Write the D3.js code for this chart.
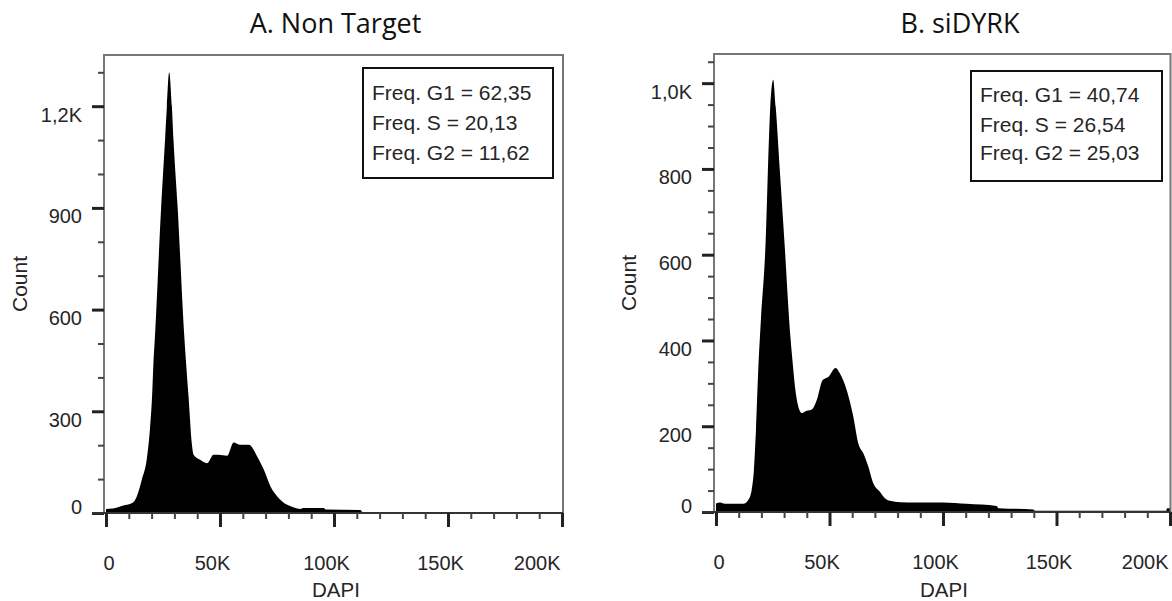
<!DOCTYPE html>
<html>
<head>
<meta charset="utf-8">
<script src="https://cdn.jsdelivr.net/npm/d3@7"></script>
<style>
  body { margin: 0; background: #fff; }
  svg { display: block; }
</style>
</head>
<body>
<svg id="chart" width="1172" height="601"></svg>
<script>
// ---- Data: DAPI cell-cycle histograms (DAPI in thousands, cell counts) ----
const dapiA  = [0, 3.0, 7.6, 11.0, 12.0, 13.5, 15.7, 17.9, 19.3, 20.2, 20.8, 21.5, 24.2, 25.9, 26.7, 27.7, 28.9, 29.6, 31.4, 34.3, 36.2, 37.7, 38.4, 41.3, 44.3, 47.2, 49.4, 53.1, 56.0, 58.9, 62.6, 66.3, 69.2, 72.1, 75.1, 79.5, 82.4, 85.3, 86.5, 95.4, 96.5, 111.7, 112.5, 200];
const countA = [12, 13, 22, 28, 32, 49, 98, 160, 250, 344, 442, 525, 904, 1101, 1199, 1300, 1199, 1101, 904, 525, 344, 201, 172, 157, 147, 172, 172, 169, 208, 201, 201, 167, 128, 79, 49, 24, 16, 12, 15, 15, 10, 9, 2, 2];

const dapiB  = [0, 1.8, 4.0, 12.0, 14.2, 15.7, 16.7, 17.6, 18.6, 19.8, 21.9, 23.3, 23.9, 25.2, 26.3, 28.2, 30.1, 32.9, 33.8, 34.8, 36.3, 37.8, 40.0, 42.2, 44.4, 47.0, 49.5, 52.7, 54.6, 57.6, 60.5, 62.7, 64.9, 67.1, 69.3, 72.2, 74.4, 76.6, 81.1, 88.4, 100.1, 110.4, 123.6, 124.4, 139.8, 140.5, 198.3, 198.7, 200];
const countB = [20, 22, 19, 19, 28, 51, 98, 191, 330, 450, 634, 867, 945, 1008, 945, 790, 634, 401, 347, 292, 245, 231, 236, 239, 261, 308, 315, 336, 323, 284, 222, 160, 137, 106, 67, 47, 32, 26, 23, 22, 22, 19, 14, 9, 6, 3, 3, 9, 9];

const freqA = ["Freq. G1 = 62,35", "Freq. S = 20,13", "Freq. G2 = 11,62"];
const freqB = ["Freq. G1 = 40,74", "Freq. S = 26,54", "Freq. G2 = 25,03"];

const xTicks      = [0, 50, 100, 150, 200];
const xTickLabels = ["0", "50K", "100K", "150K", "200K"];
const yTicksA      = [0, 300, 600, 900, 1200];
const yTickLabelsA = ["0", "300", "600", "900", "1,2K"];
const yTicksB      = [0, 200, 400, 600, 800, 1000];
const yTickLabelsB = ["0", "200", "400", "600", "800", "1,0K"];

// ---- Panel layout ----
const panels = [
  {
    id: "A", title: "A. Non Target", titleX: 335.5,
    dapi: dapiA, count: countA, freq: freqA,
    yTicks: yTicksA, yLabels: yTickLabelsA, yMinorStep: 100, yMax: 1351,
    box: { left: 104, right: 563, top: 55, bottom: 513 }, xDom: [-0.88, 200.44],
    legend: { x: 363, y: 68, w: 190, h: 110, tx: 372, base: [100, 130, 160] },
    countX: 26.5, dapiX: 336
  },
  {
    id: "B", title: "B. siDYRK", titleX: 960,
    dapi: dapiB, count: countB, freq: freqB,
    yTicks: yTicksB, yLabels: yTickLabelsB, yMinorStep: 50, yMax: 1068,
    box: { left: 714, right: 1170.5, top: 54, bottom: 512 }, xDom: [-0.88, 200.22],
    legend: { x: 971, y: 71, w: 191, h: 110, tx: 980, base: [101.5, 131.5, 160] },
    countX: 636, dapiX: 944
  }
];

const svg = d3.select("#chart");
const sans = "'Liberation Sans', Arial, sans-serif";
const textCol = "#262626";

panels.forEach(p => {
  const b = p.box;
  const x = d3.scaleLinear().domain(p.xDom).range([b.left, b.right]);
  const y = d3.scaleLinear().domain([0, p.yMax]).range([b.bottom, b.top]);
  const g = svg.append("g").attr("class", "panel-" + p.id);

  // clip region for the histogram
  g.append("clipPath").attr("id", "clip" + p.id)
    .append("rect").attr("x", b.left).attr("y", b.top)
    .attr("width", b.right - b.left).attr("height", b.bottom - b.top);

  const pts = p.dapi.map((d, i) => ({ d, c: p.count[i] }));
  const area = d3.area()
    .x(v => x(v.d))
    .y0(y(0))
    .y1(v => y(v.c))
    .curve(d3.curveMonotoneX);

  g.append("path")
    .datum(pts)
    .attr("clip-path", "url(#clip" + p.id + ")")
    .attr("fill", "#000")
    .attr("d", area);

  // frame
  g.append("path")
    .attr("d", `M${b.left},${b.bottom}V${b.top}H${b.right}V${b.bottom}`)
    .attr("fill", "none").attr("stroke", "#777").attr("stroke-width", 2);

  // ---- y axis: minor then major ticks ----
  const yMinor = d3.range(0, p.yMax, p.yMinorStep).filter(v => !p.yTicks.includes(v));
  const yMinorAxis = d3.axisLeft(y).tickValues(yMinor).tickSize(6).tickFormat("");
  const gyMin = g.append("g").attr("transform", `translate(${b.left},0)`).call(yMinorAxis);
  gyMin.select(".domain").remove();
  gyMin.selectAll(".tick line").attr("stroke", "#444").attr("stroke-width", 2);

  const yAxis = d3.axisLeft(y).tickValues(p.yTicks).tickSize(12)
    .tickFormat((v, i) => p.yLabels[i]);
  const gy = g.append("g").attr("transform", `translate(${b.left},0)`).call(yAxis);
  gy.select(".domain").remove();
  gy.selectAll(".tick line").attr("stroke", "#222").attr("stroke-width", 3);
  gy.selectAll(".tick text")
    .attr("x", -22)
    .attr("dy", v => v === 0 ? "0em" : "0.75em")
    .attr("font-family", sans).attr("font-size", 20).attr("fill", textCol);

  // bottom axis line
  g.append("line")
    .attr("x1", b.left - 12).attr("x2", b.right)
    .attr("y1", b.bottom).attr("y2", b.bottom)
    .attr("stroke", "#333").attr("stroke-width", 2);

  // ---- x axis: minor then major ticks ----
  const xMinor = d3.range(0, 201, 10).filter(v => !xTicks.includes(v));
  const xMinorAxis = d3.axisBottom(x).tickValues(xMinor).tickSize(6).tickFormat("");
  const gxMin = g.append("g").attr("transform", `translate(0,${b.bottom})`).call(xMinorAxis);
  gxMin.select(".domain").remove();
  gxMin.selectAll(".tick line").attr("stroke", "#444").attr("stroke-width", 2);

  const xAxis = d3.axisBottom(x).tickValues(xTicks).tickSize(14)
    .tickFormat((v, i) => xTickLabels[i]);
  const gx = g.append("g").attr("transform", `translate(0,${b.bottom})`).call(xAxis);
  gx.select(".domain").remove();
  gx.selectAll(".tick line").attr("stroke", "#222").attr("stroke-width", 3);
  const last = xTicks.length - 1;
  gx.selectAll(".tick text")
    .attr("y", 57).attr("dy", "0em")
    .attr("text-anchor", (v, i) => i === 0 ? "start" : (i === last ? "end" : "middle"))
    .attr("x", (v, i) => i === 0 ? -3 : (i === last ? -2 : -8))
    .attr("font-family", sans).attr("font-size", 20).attr("fill", textCol);

  // axis titles
  g.append("text")
    .attr("x", p.dapiX).attr("y", 597)
    .attr("text-anchor", "middle")
    .attr("font-family", sans).attr("font-size", 20.5).attr("fill", textCol)
    .text("DAPI");
  g.append("text")
    .attr("transform", `translate(${p.countX},${(b.top + b.bottom) / 2}) rotate(-90)`)
    .attr("text-anchor", "middle")
    .attr("font-family", sans).attr("font-size", 21).attr("fill", textCol)
    .text("Count");

  // panel title
  g.append("text")
    .attr("x", p.titleX).attr("y", 33)
    .attr("text-anchor", "middle")
    .attr("font-family", "'Open Sans', sans-serif").attr("font-size", 27).attr("fill", "#111")
    .text(p.title);

  // frequency box
  const L = p.legend;
  g.append("rect")
    .attr("x", L.x).attr("y", L.y).attr("width", L.w).attr("height", L.h)
    .attr("fill", "#fff").attr("stroke", "#111").attr("stroke-width", 2);
  g.selectAll("text.freq").data(p.freq).join("text")
    .attr("class", "freq")
    .attr("x", L.tx).attr("y", (d, i) => L.base[i])
    .attr("font-family", sans).attr("font-size", 21).attr("fill", textCol)
    .text(d => d);
});
</script>
</body>
</html>
